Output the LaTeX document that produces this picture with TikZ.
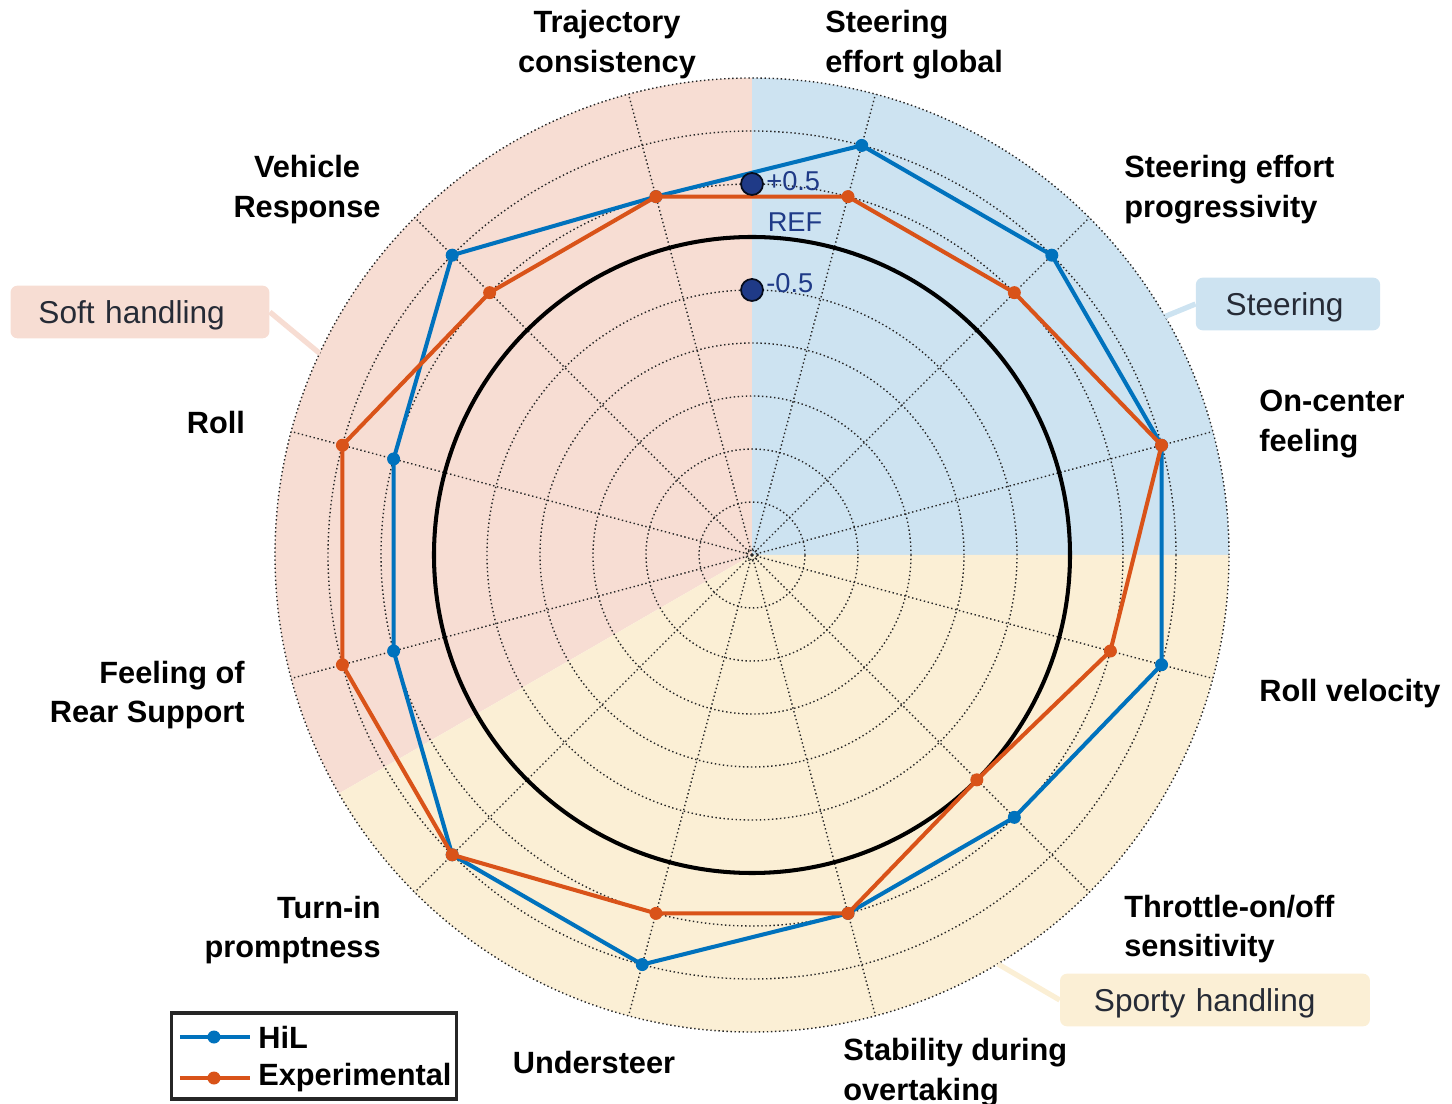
\documentclass[tikz,border=0pt]{standalone}
\usepackage{fontspec}
\setmainfont{Liberation Sans}
\usepackage{xcolor}
\usetikzlibrary{positioning}

\definecolor{softpink}{HTML}{F7DDD3}
\definecolor{steerblue}{HTML}{CDE3F1}
\definecolor{sportyellow}{HTML}{FBEFD5}
\definecolor{hilblue}{HTML}{0072BD}
\definecolor{exporange}{HTML}{D95319}
\definecolor{refnavy}{HTML}{1F3A87}
\definecolor{boxtext}{HTML}{262B36}

\begin{document}
\begin{tikzpicture}[x=0.02cm, y=0.02cm,
  gridline/.style={black!85, line width=0.8pt, dash pattern=on 0.8pt off 1.5pt},
  axlabel/.style={inner sep=0pt, font=\bfseries\fontsize{17.5}{22.7}\selectfont},
  groupbox/.style={inner ysep=0pt, rounded corners=4pt, text=boxtext, text depth=0pt,
    minimum height=30pt, align=left, font=\fontsize{18}{22}\selectfont},
  reflabel/.style={inner sep=0pt, text=refnavy, font=\fontsize{15.5}{18}\selectfont}]
\useasboundingbox (-752,-549) rectangle (700,555);

% group sectors
\fill[softpink] (0,0) -- (90:477) arc[start angle=90, end angle=210, radius=477] -- cycle;
\fill[steerblue] (0,0) -- (0:477) arc[start angle=0, end angle=90, radius=477] -- cycle;
\fill[sportyellow] (0,0) -- (210:477) arc[start angle=210, end angle=360, radius=477] -- cycle;

% polar grid
\draw[gridline] (0,0) circle (6);
\foreach \k in {1,...,9}
  \draw[gridline] (0,0) circle ({53*\k});
\foreach \a in {15,45,...,345}
  \draw[gridline] (0,0) -- (\a:477);

% reference circle
\draw[line width=2.3pt] (0,0) circle (318);

% data, clockwise from 75 deg
\foreach \v [count=\i] in {1,1,1,1,0.5,0.5,1,1,0.5,0.5,1,0.5}
  \coordinate (h\i) at ({75-30*(\i-1)}:{318+106*\v});
\foreach \v [count=\i] in {0.5,0.5,1,0.5,0,0.5,0.5,1,1,1,0.5,0.5}
  \coordinate (e\i) at ({75-30*(\i-1)}:{318+106*\v});

\draw[hilblue, line width=2.3pt, line join=round]
  (h1) -- (h2) -- (h3) -- (h4) -- (h5) -- (h6) -- (h7) -- (h8) -- (h9) -- (h10) -- (h11) -- (h12) -- cycle;
\foreach \i in {1,...,12}
  \fill[hilblue] (h\i) circle (6.5);
\draw[exporange, line width=2.3pt, line join=round]
  (e1) -- (e2) -- (e3) -- (e4) -- (e5) -- (e6) -- (e7) -- (e8) -- (e9) -- (e10) -- (e11) -- (e12) -- cycle;
\foreach \i in {1,...,12}
  \fill[exporange] (e\i) circle (6.5);

% scale markers
\filldraw[fill=refnavy, draw=black!80!refnavy, line width=1pt] (0,371) circle (11);
\filldraw[fill=refnavy, draw=black!80!refnavy, line width=1pt] (0,265) circle (11);
\node[reflabel, anchor=west] (plus) at (14,374) {+0.5};
\node[reflabel, anchor=west] (minus) at (14,272) {-0.5};
\node[reflabel] (ref) at (43,333) {REF};

% axis labels
\node[axlabel, anchor=west, align=left] (seglobal) at (73,510) {Steering\\effort global};
\node[axlabel, align=center] (trajcons) at (-145,510) {Trajectory\\consistency};
\node[axlabel, anchor=west, align=left] (seprog) at (372,365) {Steering effort\\progressivity};
\node[axlabel, align=center] (vehresp) at (-445,365) {Vehicle\\Response};
\node[axlabel, anchor=west, align=left] (oncenter) at (507,131) {On-center\\feeling};
\node[axlabel] (roll) at (-536,132) {Roll};
\node[axlabel, anchor=west] (rollvel) at (507,-139) {Roll velocity};
\node[axlabel, anchor=east, align=right] (rearsup) at (-507,-140) {Feeling of\\Rear Support};
\node[axlabel, anchor=west, align=left] (throttle) at (372,-374) {Throttle-on/off\\sensitivity};
\node[axlabel, anchor=east, align=right] (turnin) at (-371,-375) {Turn-in\\promptness};
\node[axlabel, anchor=west, align=left] (stability) at (91,-518) {Stability during\\overtaking};
\node[axlabel] (understeer) at (-158,-508) {Understeer};

% group boxes
\coordinate (softtip) at (155:477);
\coordinate (steertip) at (30:477);
\coordinate (sportytip) at (-59:477);
\node[groupbox, fill=softpink, text width=115.6pt, inner xsep=15.9pt] (soft) at (-612,243) {Soft handling};
\node[groupbox, fill=steerblue, text width=70.9pt, inner xsep=17pt] (steer) at (536,251) {Steering};
\node[groupbox, fill=sportyellow, text width=137.8pt, inner xsep=19.3pt] (sporty) at (463,-445) {Sporty handling};
\draw[softpink, line width=3pt] (softtip) -- (soft.east);
\draw[steerblue, line width=3pt] (steertip) -- (steer.west);
\draw[sportyellow, line width=3pt] (sportytip) -- (sporty.west);

% legend
\node[draw=black!85, line width=2pt, minimum width=162pt, minimum height=48.8pt, inner sep=0pt] (legend) at (-438,-501) {};
\draw[hilblue, line width=2.3pt] (-572,-482) -- (-502,-482);
\fill[hilblue] (-538,-482) circle (6.5);
\draw[exporange, line width=2.3pt] (-572,-523) -- (-502,-523);
\fill[exporange] (-538,-523) circle (6.5);
\node[axlabel, anchor=west] (hil) at (-494,-482) {HiL};
\node[axlabel, anchor=west] (exp) at (-494,-523) {Experimental};
\end{tikzpicture}
\end{document}
